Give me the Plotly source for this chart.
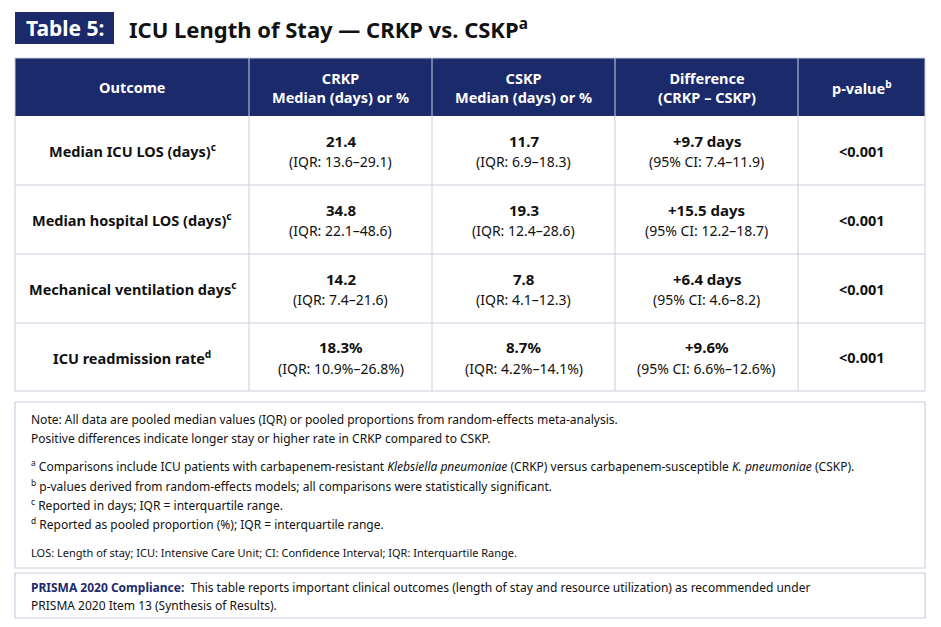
import plotly.graph_objects as go

headers = ["Outcome", "CRKP<br>Median (days) or %", "CSKP<br>Median (days) or %",
           "Difference<br>(CRKP – CSKP)", "p-value<sup>b</sup>"]
outcomes = ["Median ICU LOS (days)<sup>c</sup>", "Median hospital LOS (days)<sup>c</sup>",
            "Mechanical ventilation days<sup>c</sup>", "ICU readmission rate<sup>d</sup>"]
crkp_val = ["21.4", "34.8", "14.2", "18.3%"]
crkp_iqr = ["IQR: 13.6–29.1", "IQR: 22.1–48.6", "IQR: 7.4–21.6", "IQR: 10.9%–26.8%"]
cskp_val = ["11.7", "19.3", "7.8", "8.7%"]
cskp_iqr = ["IQR: 6.9–18.3", "IQR: 12.4–28.6", "IQR: 4.1–12.3", "IQR: 4.2%–14.1%"]
diff_val = ["+9.7 days", "+15.5 days", "+6.4 days", "+9.6%"]
diff_ci = ["95% CI: 7.4–11.9", "95% CI: 12.2–18.7", "95% CI: 4.6–8.2", "95% CI: 6.6%–12.6%"]
pvals = ["<0.001", "<0.001", "<0.001", "<0.001"]

notes = [
    "Note: All data are pooled median values (IQR) or pooled proportions from random-effects meta-analysis.",
    "Positive differences indicate longer stay or higher rate in CRKP compared to CSKP.",
    "<sup>a</sup> Comparisons include ICU patients with carbapenem-resistant <i>Klebsiella pneumoniae</i> (CRKP) versus carbapenem-susceptible <i>K. pneumoniae</i> (CSKP).",
    "<sup>b</sup> p-values derived from random-effects models; all comparisons were statistically significant.",
    "<sup>c</sup> Reported in days; IQR = interquartile range.",
    "<sup>d</sup> Reported as pooled proportion (%); IQR = interquartile range.",
    "LOS: Length of stay; ICU: Intensive Care Unit; CI: Confidence Interval; IQR: Interquartile Range.",
]
note_y = [419, 438, 466, 486, 505, 524, 552]

NAVY = "#1b2a6b"
GRID = "#c9cfe0"
FONT = "Noto Sans"

colx = [15, 249, 432, 615, 798, 925]
rowy = [58, 116, 185, 254, 323, 391]

fig = go.Figure()
fig.add_trace(go.Scatter(x=[8, 949], y=[8, 635], mode="markers", marker=dict(opacity=0), hoverinfo="skip"))

shapes = []
ann = []
def rect(x0, y0, x1, y1, fill=None, line=None, lw=1):
    shapes.append(dict(type="rect", xref="x", yref="y", x0=x0, y0=y0, x1=x1, y1=y1,
                       fillcolor=fill or "rgba(0,0,0,0)",
                       line=dict(color=line or "rgba(0,0,0,0)", width=lw), layer="below"))
def text(x, y, t, size=14, color="#111", bold=False, xanchor="center"):
    if bold:
        t = "<b>" + t + "</b>"
    ann.append(dict(x=x, y=y, xref="x", yref="y", text=t, showarrow=False, xanchor=xanchor,
                    yanchor="middle", font=dict(family=FONT, size=size, color=color), align="center"))

# title
rect(15, 12, 114, 44, fill=NAVY)
text(64.5, 28, "Table 5:", size=21, color="white", bold=True)
text(127, 28, "<b>ICU Length of Stay — CRKP vs. CSKP<sup>a</sup></b>", size=22, xanchor="left")

# table
rect(colx[0], rowy[0], colx[-1], rowy[1], fill=NAVY)
rect(colx[0], rowy[0], colx[-1], rowy[-1], line=GRID)
for x in colx[1:-1]:
    shapes.append(dict(type="line", xref="x", yref="y", x0=x, x1=x, y0=rowy[0], y1=rowy[-1],
                       line=dict(color=GRID, width=1)))
for y in rowy[2:-1]:
    shapes.append(dict(type="line", xref="x", yref="y", x0=colx[0], x1=colx[-1], y0=y, y1=y,
                       line=dict(color=GRID, width=1)))
for i, h in enumerate(headers):
    cx = (colx[i] + colx[i+1]) / 2
    ann.append(dict(x=cx, y=(rowy[0]+rowy[1])/2, xref="x", yref="y", text="<b>" + h + "</b>", showarrow=False,
                    font=dict(family=FONT, size=14.5, color="white"), align="center"))
for r in range(4):
    cy = (rowy[r+1] + rowy[r+2]) / 2
    cx = [(colx[i] + colx[i+1]) / 2 for i in range(5)]
    text(cx[0], cy, "<b>" + outcomes[r] + "</b>", size=14.5)
    for i, (v, s) in enumerate([(crkp_val, crkp_iqr), (cskp_val, cskp_iqr), (diff_val, diff_ci)]):
        text(cx[i+1], cy - 10, v[r], size=15, bold=True)
        text(cx[i+1], cy + 11, "(" + s[r] + ")", size=14)
    text(cx[4], cy, pvals[r], size=14.5, bold=True)

# notes box
rect(15, 402, 925, 568, line=GRID, lw=1.2)
for t, y in zip(notes, note_y):
    text(29, y, t, size=12 if "LOS:" not in t else 11, xanchor="left")

rect(15, 573, 925, 618, line=GRID, lw=1.2)
text(29, 587, "<b><span style='color:%s'>PRISMA 2020 Compliance:</span></b>  This table reports important clinical outcomes (length of stay and resource utilization) as recommended under" % NAVY, size=12, xanchor="left")
text(29, 605, "PRISMA 2020 Item 13 (Synthesis of Results).", size=12, xanchor="left")

fig.update_layout(width=941, height=627, margin=dict(l=0, r=0, t=0, b=0),
                  plot_bgcolor="white", paper_bgcolor="white", showlegend=False,
                  shapes=shapes, annotations=ann,
                  xaxis=dict(range=[8, 949], visible=False, fixedrange=True),
                  yaxis=dict(range=[635, 8], visible=False, fixedrange=True))
fig.write_html("out.html")
